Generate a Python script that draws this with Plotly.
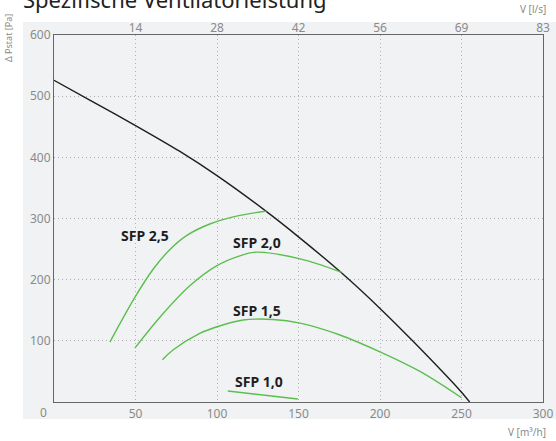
import plotly.graph_objects as go

# ---- data ----
sys_x = [0, 25, 50, 77, 100, 130, 150, 176, 200, 220, 250, 255]
sys_p = [526, 489, 452, 410, 370, 312, 270, 212, 153, 100, 16, 0]

sfp25_x = [34.3, 49.6, 60.8, 71, 81.3, 95.6, 114, 130.4]
sfp25_p = [98, 171, 217, 249, 272, 291, 305, 312]

sfp20_x = [49.6, 65.1, 83.3, 100, 114, 124, 151, 176.4]
sfp20_p = [88, 139, 190, 223, 239, 245, 234, 212]

sfp15_x = [66.5, 73, 89.4, 100, 116, 134.4, 151, 175, 200, 224.5, 250]
sfp15_p = [69, 85, 112, 123, 134, 135, 129, 110, 82, 50, 7]

sfp10_x = [106.6, 149.6]
sfp10_p = [18, 5]

labels = ["SFP 2,5", "SFP 2,0", "SFP 1,5", "SFP 1,0"]
label_x = [56, 124.5, 124.5, 125.5]
label_p = [272, 261, 150, 34]

x_ticks = [50, 100, 150, 200, 250, 300]
y_ticks = [100, 200, 300, 400, 500, 600]
top_ticks = [50, 100, 150, 200, 250, 300]
top_labels = ["14", "28", "42", "56", "69", "83"]

# ---- layout geometry ----
W, H = 556, 441
L, R, T, B = 54, 13, 35, 39
pw, ph = W - L - R, H - T - B

def px(x):
    return (x - L) / pw

def py(y):
    return (H - B - y) / ph

FONT = "Noto Sans"
GREEN = "#5bbf4e"
TICKC = "#8a8a8a"
GRID = "#b0b0b0"

fig = go.Figure()
fig.add_trace(go.Scatter(x=sys_x, y=sys_p, mode="lines", line=dict(color="#1e1e1e", width=1.4, shape="spline", smoothing=0.6), showlegend=False, hoverinfo="skip"))
for xs, ps in [(sfp25_x, sfp25_p), (sfp20_x, sfp20_p), (sfp15_x, sfp15_p), (sfp10_x, sfp10_p)]:
    fig.add_trace(go.Scatter(x=xs, y=ps, mode="lines", line=dict(color=GREEN, width=1.4, shape="spline", smoothing=1.0), showlegend=False, hoverinfo="skip"))
# invisible trace for the top axis
fig.add_trace(go.Scatter(x=[0, 300], y=[0, 0], xaxis="x2", mode="markers", marker=dict(opacity=0), showlegend=False, hoverinfo="skip"))

for t, lx, lp in zip(labels, label_x, label_p):
    fig.add_annotation(x=lx, y=lp, text="<b>" + t + "</b>", showarrow=False, font=dict(family=FONT, size=14, color="#1e1e1e"), xanchor="center", yanchor="middle")

# grey panel
fig.add_shape(type="rect", xref="paper", yref="paper", x0=px(23), x1=px(556), y0=py(419), y1=py(22), fillcolor="#f1f2f4", line=dict(width=0), layer="below")

# title and axis captions
fig.add_annotation(xref="paper", yref="paper", x=px(21), y=py(-1), text="Spezifische Ventilatorleistung", showarrow=False, xanchor="left", yanchor="middle", font=dict(family=FONT, size=22, color="#222"))
fig.add_annotation(xref="paper", yref="paper", x=px(548), y=py(9), text="V [l/s]", showarrow=False, xanchor="right", yanchor="middle", font=dict(family=FONT, size=10, color=TICKC))
fig.add_annotation(xref="paper", yref="paper", x=px(548), y=py(432), text="V [m³/h]", showarrow=False, xanchor="right", yanchor="middle", font=dict(family=FONT, size=10, color=TICKC))
fig.add_annotation(xref="paper", yref="paper", x=px(8), y=py(38), text="Δ Pstat [Pa]", showarrow=False, textangle=-90, xanchor="center", yanchor="middle", font=dict(family=FONT, size=9, color=TICKC))
fig.add_annotation(xref="paper", yref="paper", x=px(43), y=py(412), text="0", showarrow=False, xanchor="center", yanchor="middle", font=dict(family=FONT, size=12, color=TICKC))

fig.update_layout(
    width=W, height=H,
    margin=dict(l=L, r=R, t=T, b=B, pad=0, autoexpand=False),
    paper_bgcolor="white", plot_bgcolor="#f1f2f4",
    font=dict(family=FONT, size=12, color=TICKC),
    xaxis=dict(range=[0, 300], tickvals=x_ticks, showgrid=True, gridcolor=GRID, griddash="1px,3px", gridwidth=1,
               showline=True, linecolor="#666", linewidth=1.2, mirror=True, zeroline=False, ticks="", automargin=False,
               tickfont=dict(family=FONT, size=12, color=TICKC)),
    xaxis2=dict(range=[0, 300], overlaying="x", side="top", tickvals=top_ticks, ticktext=top_labels, showgrid=False, showline=False, ticks="", zeroline=False, automargin=False,
                tickfont=dict(family=FONT, size=12, color=TICKC)),
    yaxis=dict(range=[0, 600], tickvals=y_ticks, showgrid=True, gridcolor=GRID, griddash="1px,3px", gridwidth=1,
               showline=True, linecolor="#666", linewidth=1.2, mirror=True, zeroline=False, ticks="", automargin=False,
               tickfont=dict(family=FONT, size=12, color=TICKC)),
)

fig.write_html("out.html", config={"displayModeBar": False},
               post_script="document.body.style.margin='0';document.body.style.overflow='hidden';")
